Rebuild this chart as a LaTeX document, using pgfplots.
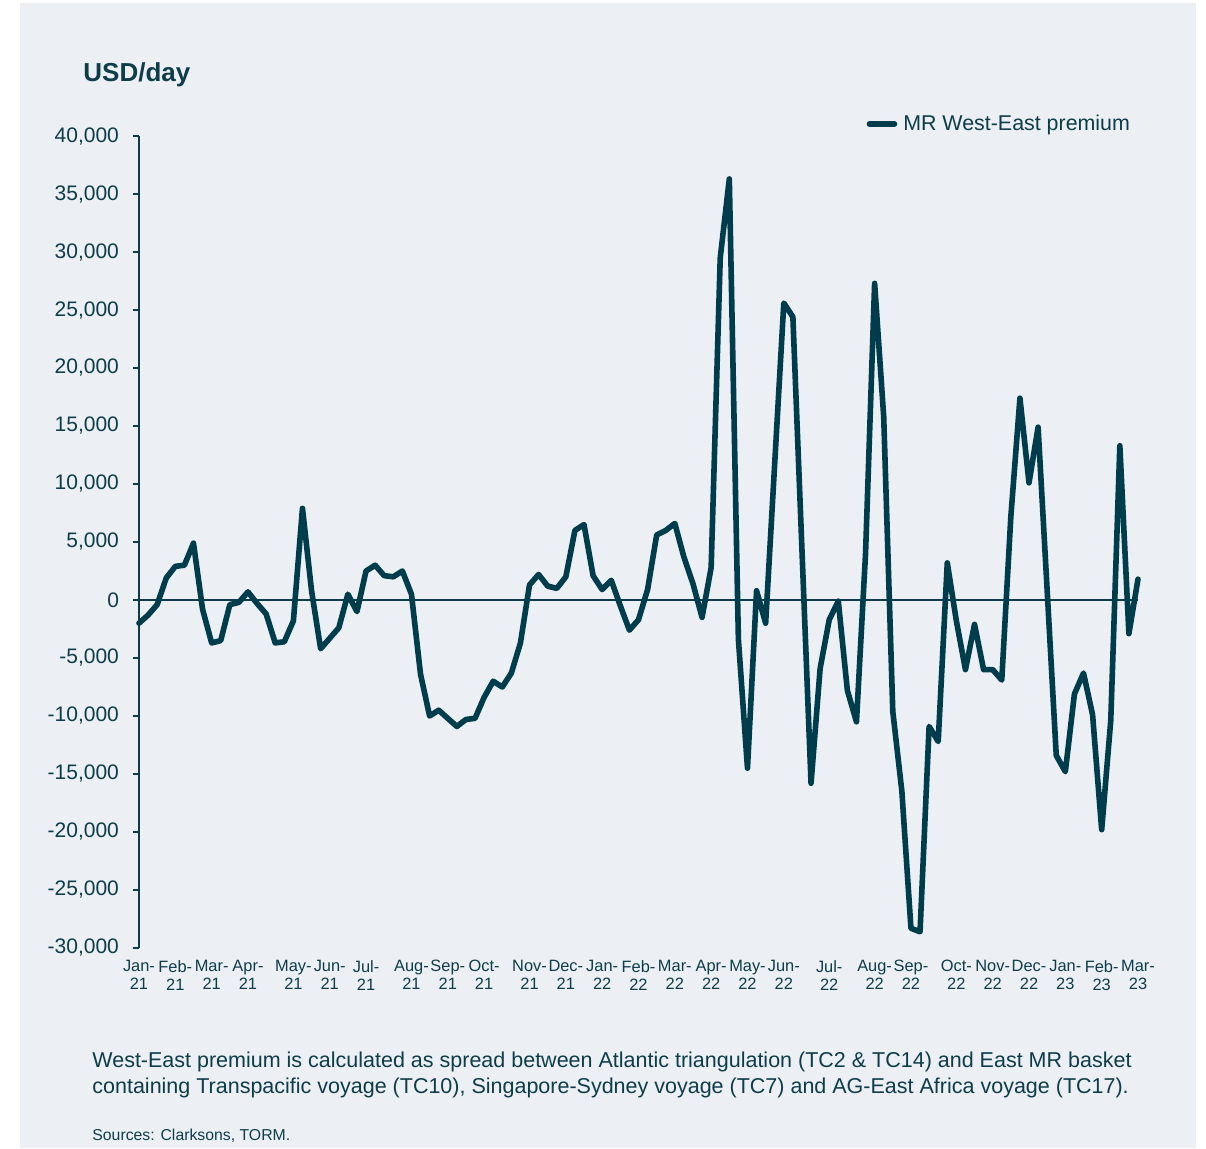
\documentclass[border=0pt]{standalone}
\usepackage{fontspec}
\setmainfont{Liberation Sans}
\usepackage{pgfplots}
\usepackage{pgfplotstable}
\pgfplotsset{compat=1.18}

\definecolor{torm}{RGB}{0,61,76}
\definecolor{txt}{RGB}{14,60,72}
\definecolor{panel}{RGB}{236,240,244}

% Weekly MR West-East premium, USD/day (week index from Jan-21)
\pgfplotstableread{
wk premium
0 -2000
1 -1300
2 -400
3 1900
4 2900
5 3000
6 4900
7 -800
8 -3700
9 -3500
10 -400
11 -200
12 700
13 -300
14 -1200
15 -3700
16 -3600
17 -1800
18 7900
19 800
20 -4200
21 -3300
22 -2400
23 500
24 -1000
25 2500
26 3000
27 2100
28 2000
29 2500
30 500
31 -6400
32 -10000
33 -9500
34 -10200
35 -10900
36 -10300
37 -10200
38 -8400
39 -7000
40 -7500
41 -6300
42 -3700
43 1300
44 2200
45 1200
46 1000
47 2000
48 6000
49 6500
50 2100
51 900
52 1700
53 -500
54 -2600
55 -1700
56 900
57 5600
58 6000
59 6600
60 3700
61 1400
62 -1500
63 2800
64 29500
65 36300
66 -3400
67 -14500
68 800
69 -2000
70 11800
71 25600
72 24400
73 4300
74 -15800
75 -5900
76 -1700
77 -100
78 -7800
79 -10500
80 4000
81 27300
82 15800
83 -9600
84 -16500
85 -28300
86 -28600
87 -10900
88 -12200
89 3200
90 -1800
91 -6000
92 -2100
93 -6000
94 -6000
95 -6900
96 7200
97 17400
98 10100
99 14900
100 800
101 -13400
102 -14800
103 -8100
104 -6300
105 -9900
106 -19800
107 -10400
108 13300
109 -2900
110 1800
}\premiumdata

\begin{document}
\begin{tikzpicture}[x=1pt,y=1pt]
% page and panel background
\fill[white] (-69.5,-100) rectangle (533.5,474);
\fill[panel] (-59.5,-100) rectangle (528.5,472.5);

\begin{axis}[
  at={(0,0)}, anchor=south west,
  scale only axis, width=499.5pt, height=406pt,
  xmin=0, xmax=110, ymin=-30000, ymax=40000,
  clip=false,
  axis lines*=left,
  axis line style={-, draw=txt, line width=0.9pt},
  x axis line style={draw=none},
  xtick={0,4,8,12,17,21,25,30,34,38,43,47,51,55,59,63,67,71,76,81,85,90,94,98,102,106,110},
  xticklabels={{Jan-\\21},{Feb-\\21},{Mar-\\21},{Apr-\\21},{May-\\21},{Jun-\\21},{Jul-\\21},{Aug-\\21},{Sep-\\21},{Oct-\\21},{Nov-\\21},{Dec-\\21},{Jan-\\22},{Feb-\\22},{Mar-\\22},{Apr-\\22},{May-\\22},{Jun-\\22},{Jul-\\22},{Aug-\\22},{Sep-\\22},{Oct-\\22},{Nov-\\22},{Dec-\\22},{Jan-\\23},{Feb-\\23},{Mar-\\23}},
  xtick style={draw=none},
  xticklabel style={align=center, text=txt, font=\fontsize{8.2}{9}\selectfont, inner sep=0pt, yshift=-3pt},
  ytick={-30000,-25000,...,40000},
  ytick style={draw=txt, line width=0.9pt},
  tick align=outside, major tick length=3pt,
  scaled y ticks=false,
  yticklabel style={text=txt, font=\fontsize{10.5}{12}\selectfont, xshift=-3.5pt,
    /pgf/number format/.cd, fixed, 1000 sep={,}, assume math mode=true},
  legend style={draw=none, fill=none, at={(0.728,1.0148)}, anchor=west,
    inner sep=0pt, font=\fontsize{10.7}{12}\selectfont, text=txt,
    nodes={inner sep=0pt}, column sep=3pt},
  legend cell align=left,
  legend image code/.code={\draw[#1, line cap=round] (0pt,0pt) -- (12.5pt,0pt);},
]
\draw[txt, line width=0.9pt] (axis cs:0,0) -- (axis cs:110,0);
\addplot[torm, line width=2.8pt, line join=round, line cap=round] table[x=wk, y=premium] {\premiumdata};
\addlegendentry{MR West-East premium}
\end{axis}

\begin{scope}[every node/.style={inner sep=0pt, anchor=base west, text=txt}]
\node[font=\fontsize{13}{15}\selectfont\bfseries] at (-28,433) {USD/day};
\node[font=\fontsize{10.75}{12}\selectfont] at (-23.5,-59.5)
  {West-East premium is calculated as spread between Atlantic triangulation (TC2 \& TC14) and East MR basket};
\node[font=\fontsize{10.75}{12}\selectfont] at (-23.5,-72.7)
  {containing Transpacific voyage (TC10), Singapore-Sydney voyage (TC7) and AG-East Africa voyage (TC17).};
\node[font=\fontsize{7.9}{9}\selectfont] at (-23.5,-96)
  {Sources: Clarksons, TORM.};
\end{scope}
\end{tikzpicture}
\end{document}
